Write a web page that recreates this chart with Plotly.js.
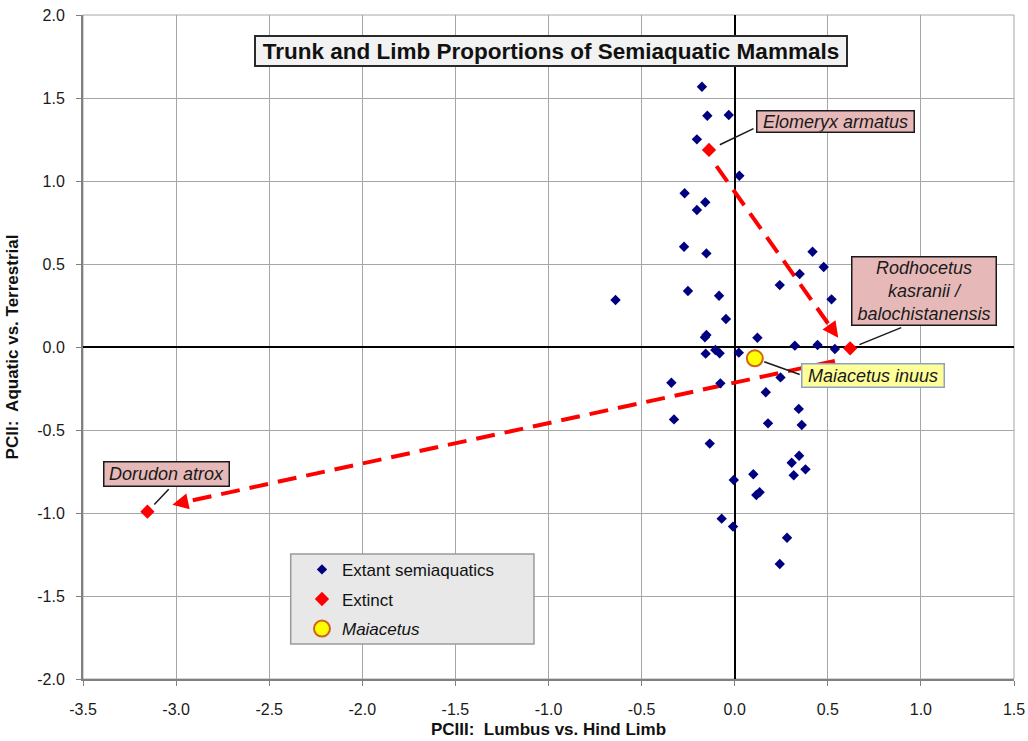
<!DOCTYPE html>
<html>
<head>
<meta charset="utf-8">
<script src="https://cdn.plot.ly/plotly-3.0.1.min.js"></script>
<style>html,body{margin:0;padding:0;background:#fff;}#chart{width:1028px;height:741px;}</style>
</head>
<body>
<div id="chart"></div>
<script>
// ---- data ----
const extantX = [-0.176, -0.147, -0.032, -0.203, 0.025, -0.269, -0.158, -0.203, -0.272, -0.152,
  0.418, 0.478, 0.349, 0.242, -0.640, -0.251, -0.084, 0.520, -0.047, -0.152, -0.160, 0.122,
  0.323, 0.445, 0.538, -0.156, -0.104, -0.081, 0.022, 0.246, -0.340, -0.077, 0.167, 0.344,
  -0.326, 0.179, 0.360, -0.134, 0.346, 0.306, 0.380, 0.317, 0.100, -0.005, 0.134, 0.116,
  -0.070, -0.009, 0.281, 0.242];
const extantY = [1.568, 1.393, 1.398, 1.251, 1.032, 0.926, 0.872, 0.825, 0.604, 0.564,
  0.574, 0.482, 0.440, 0.373, 0.283, 0.337, 0.309, 0.287, 0.169, 0.072, 0.058, 0.056,
  0.008, 0.012, -0.012, -0.040, -0.018, -0.038, -0.034, -0.183, -0.215, -0.219, -0.273, -0.373,
  -0.436, -0.460, -0.470, -0.582, -0.655, -0.697, -0.737, -0.773, -0.767, -0.801, -0.875, -0.892,
  -1.034, -1.082, -1.149, -1.307];

const extinctNames = ["Elomeryx armatus", "Rodhocetus kasranii / balochistanensis", "Dorudon atrox"];
const extinctX = [-0.138, 0.620, -3.154];
const extinctY = [1.187, -0.008, -0.992];

const maiacetusNames = ["Maiacetus inuus"];
const maiacetusX = [0.108];
const maiacetusY = [-0.068];

// dashed trend arrows (start -> tip)
const arrowFromX = [-0.098, 0.538];
const arrowFromY = [1.090, -0.084];
const arrowToX = [0.556, -3.020];
const arrowToY = [0.055, -0.950];

const xTickVals = [-3.5, -3.0, -2.5, -2.0, -1.5, -1.0, -0.5, 0.0, 0.5, 1.0, 1.5];
const yTickVals = [-2.0, -1.5, -1.0, -0.5, 0.0, 0.5, 1.0, 1.5, 2.0];

const titleText = "Trunk and Limb Proportions of Semiaquatic Mammals";
const xTitle = "PCIII:\u00a0 Lumbus vs. Hind Limb";
const yTitle = "PCII:\u00a0 Aquatic vs. Terrestrial";

// ---- styles ----
const FONT = "Liberation Sans, Arial, Helvetica, sans-serif";
const RED = "#ff0000";
const plotW = 931, plotH = 664;
const pxPerX = plotW / (xTickVals[xTickVals.length-1] - xTickVals[0]);
const pxPerY = plotH / (yTickVals[yTickVals.length-1] - yTickVals[0]);

const traces = [];
const annotations = [];

// dashed lines + arrowheads
for (let i = 0; i < arrowFromX.length; i++) {
  const dxp = (arrowToX[i] - arrowFromX[i]) * pxPerX;
  const dyp = (arrowToY[i] - arrowFromY[i]) * pxPerY;
  const k = 16 / Math.hypot(dxp, dyp);
  const bx = arrowToX[i] - (arrowToX[i] - arrowFromX[i]) * k;
  const by = arrowToY[i] - (arrowToY[i] - arrowFromY[i]) * k;
  traces.push({
    x: [arrowFromX[i], bx], y: [arrowFromY[i], by],
    mode: "lines", type: "scatter", showlegend: false, hoverinfo: "skip",
    line: {color: RED, width: 4, dash: "19px,10px"}
  });
  annotations.push({
    x: arrowToX[i], y: arrowToY[i], xref: "x", yref: "y",
    ax: bx, ay: by, axref: "x", ayref: "y",
    text: "", showarrow: true, arrowhead: 2, arrowsize: 0.8, arrowwidth: 4, arrowcolor: RED
  });
}

traces.push({
  name: "Extant semiaquatics", legendgroup: "g1", x: extantX, y: extantY, type: "scatter", mode: "markers",
  marker: {symbol: "diamond", size: 8, color: "#000080"}
});
traces.push({
  name: "Extinct", legendgroup: "g2", x: extinctX, y: extinctY, text: extinctNames, type: "scatter", mode: "markers",
  marker: {symbol: "diamond", size: 11, color: RED}
});
traces.push({
  name: "<i>Maiacetus</i>", legendgroup: "g3", x: maiacetusX, y: maiacetusY, text: maiacetusNames, type: "scatter", mode: "markers",
  marker: {symbol: "circle", size: 16, color: "#ffff00", line: {color: "#d0641c", width: 2}}
});

// point labels (box offsets & connector offsets in pixels)
const labelStyle = [
  {xs: 126, ys: 28.5, w: 156, h: 20, bg: "#e6b9b8", bc: "#1a1a1a", ax: 46, ay: -22, so: 12},
  {xs: 74.3, ys: 57.3, w: 143, h: 67, bg: "#e6b9b8", bc: "#1a1a1a", ax: 52.6, ay: -21.3, so: 10},
  {xs: 19.2, ys: 37.7, w: 124, h: 23, bg: "#e6b9b8", bc: "#1a1a1a", ax: 22.7, ay: -24, so: 10}
];
function addLabel(x, y, txt, s) {
  annotations.push({
    x: x, y: y, xref: "x", yref: "y", text: txt, showarrow: false,
    xshift: s.xs, yshift: s.ys, width: s.w, height: s.h,
    bgcolor: s.bg, bordercolor: s.bc, borderwidth: 1.5, borderpad: 0,
    font: {family: FONT, size: 18, color: "#1a1a1a"}
  });
  annotations.push({
    x: x, y: y, xref: "x", yref: "y", text: "", showarrow: true, arrowhead: 0,
    ax: s.ax, ay: s.ay, standoff: s.so, arrowwidth: 1.5, arrowcolor: "#1a1a1a"
  });
}
for (let i = 0; i < extinctNames.length; i++) {
  const nm = extinctNames[i].replace(" / ", " /<br>").replace("Rodhocetus ", "Rodhocetus<br>");
  addLabel(extinctX[i], extinctY[i], "<i>" + nm + "</i>", labelStyle[i]);
}
addLabel(maiacetusX[0], maiacetusY[0], "<i>" + maiacetusNames[0] + "</i>",
  {xs: 117.9, ys: -17.7, w: 141, h: 22, bg: "#ffff99", bc: "#8aa4c0", ax: 46.4, ay: 16.7, so: 10});

// chart title box
annotations.push({
  xref: "paper", yref: "paper", x: 0.5027, y: 0.9458, xanchor: "center", yanchor: "middle",
  text: "<b>" + titleText + "</b>", showarrow: false, width: 590, height: 28,
  bgcolor: "#f2f2f2", bordercolor: "#2a2a2a", borderwidth: 2, borderpad: 0,
  font: {family: FONT, size: 22.5, color: "#111"}
});

const axisCommon = {
  ticks: "outside", ticklen: 5, tickwidth: 1, tickcolor: "#808080",
  showgrid: true, gridcolor: "#a6a6a6", gridwidth: 1,
  zeroline: true, zerolinecolor: "#000000", zerolinewidth: 2,
  showline: true, linecolor: "#808080", linewidth: 2,
  tickfont: {family: FONT, size: 16, color: "#1a1a1a"}, automargin: false, fixedrange: true
};

const layout = {
  width: 1028, height: 741,
  margin: {l: 83, r: 14, t: 15, b: 62},
  paper_bgcolor: "#ffffff", plot_bgcolor: "#ffffff",
  font: {family: FONT},
  xaxis: Object.assign({}, axisCommon, {
    range: [xTickVals[0], xTickVals[xTickVals.length-1]],
    tickmode: "array", tickvals: xTickVals, ticktext: xTickVals.map(v => v.toFixed(1)),
    ticklabelstandoff: 10,
    title: {text: "<b>" + xTitle + "</b>", font: {family: FONT, size: 17, color: "#111"}, standoff: 6}
  }),
  yaxis: Object.assign({}, axisCommon, {
    range: [yTickVals[0], yTickVals[yTickVals.length-1]],
    tickmode: "array", tickvals: yTickVals, ticktext: yTickVals.map(v => v.toFixed(1)),
    ticklabelstandoff: 8,
    title: {text: "<b>" + yTitle + "</b>", font: {family: FONT, size: 17, color: "#111"}, standoff: 14}
  }),
  showlegend: true,
  legend: {
    x: 0.2352, y: 0.1915, xanchor: "left", yanchor: "top",
    bgcolor: "rgba(0,0,0,0)", borderwidth: 0, traceorder: "grouped",
    font: {family: FONT, size: 17, color: "#111"}, tracegroupgap: 4.5
  },
  shapes: [
    {type: "rect", xref: "paper", yref: "paper", x0: 0.2231, x1: 0.4844, y0: 0.0527, y1: 0.1883,
     fillcolor: "#e8e8e8", line: {color: "#9a9a9a", width: 1.5}, layer: "above"},
    {type: "rect", xref: "paper", yref: "paper", x0: 0, x1: 1, y0: 0, y1: 1,
     fillcolor: "rgba(0,0,0,0)", line: {color: "#a6a6a6", width: 1}, layer: "below"}
  ],
  annotations: annotations
};

Plotly.newPlot("chart", traces, layout, {displayModeBar: false, staticPlot: true});
</script>
</body>
</html>
